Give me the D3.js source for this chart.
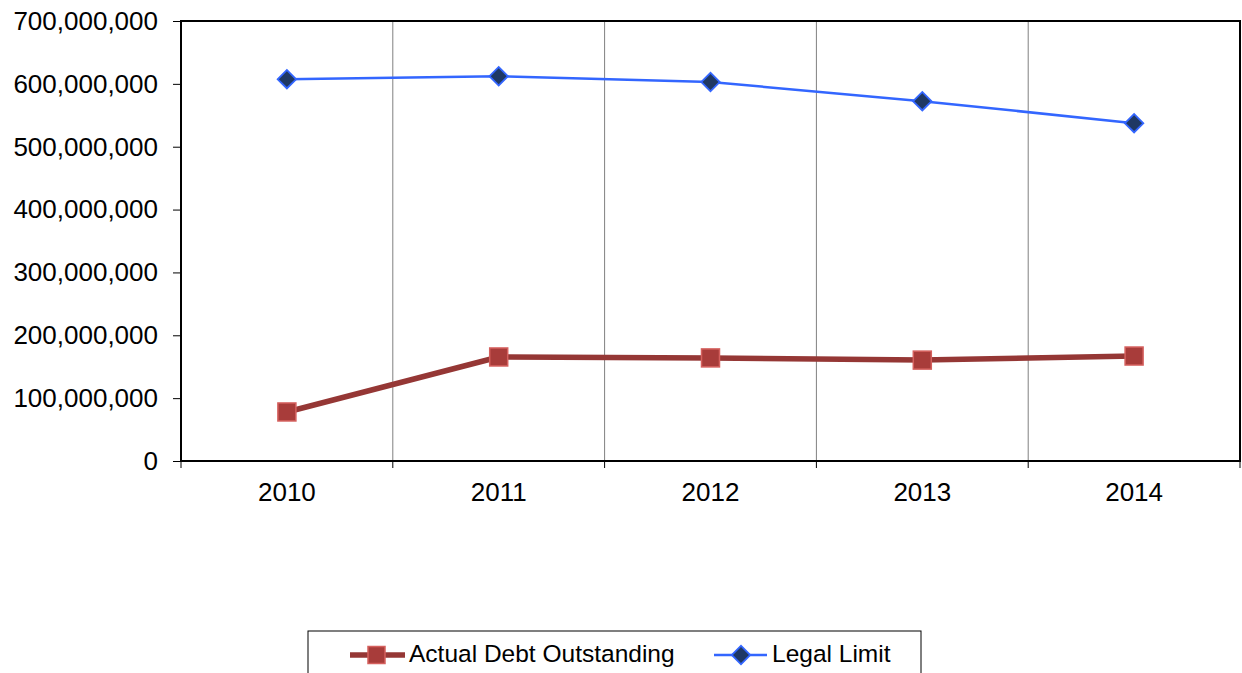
<!DOCTYPE html>
<html><head><meta charset="utf-8">
<script src="https://cdn.jsdelivr.net/npm/d3@7"></script>
<style>body{margin:0;background:#fff}svg{display:block}text{font-family:"Liberation Sans",Arial,sans-serif}</style>
</head><body>
<svg id="c" width="1242" height="673"></svg>
<script>
const categories = ["2010","2011","2012","2013","2014"];
const actualDebt = [78000000,165500000,164000000,160500000,167000000];
const legalLimit = [607500000,612000000,603000000,572500000,537500000];
const yTicks = [0,100000000,200000000,300000000,400000000,500000000,600000000,700000000];
const seriesNames = ["Actual Debt Outstanding","Legal Limit"];

const svg = d3.select("#c");
const L=181, R=1240, T=21, B=461;
const x = d3.scaleBand().domain(categories).range([L,R]);
const y = d3.scaleLinear().domain([0,700000000]).range([B,T]);
const fmt = d3.format(",");
const FONT = "Liberation Sans, Arial, sans-serif";

// gridlines at category boundaries
const bounds = categories.slice(1).map(c=>x(c));
svg.selectAll("line.grid").data(bounds).join("line")
  .attr("x1",d=>d).attr("x2",d=>d).attr("y1",T).attr("y2",B)
  .attr("stroke","#808080").attr("stroke-width",1);

// frame
svg.append("rect").attr("x",L).attr("y",T).attr("width",R-L).attr("height",B-T)
  .attr("fill","none").attr("stroke","#000").attr("stroke-width",2);

// y axis
const ya = svg.append("g").attr("transform",`translate(${L},0)`)
  .call(d3.axisLeft(y).tickValues(yTicks).tickFormat(fmt).tickSize(8).tickPadding(15));
ya.select(".domain").remove();
ya.selectAll("line").attr("stroke","#000").attr("x2",-8).attr("x1",0);
ya.selectAll("text").attr("font-size",26).attr("fill","#000").attr("font-family",FONT);

// x axis
const xa = svg.append("g").attr("transform",`translate(0,${B})`)
  .call(d3.axisBottom(x).tickSize(0).tickPadding(22));
xa.select(".domain").remove();
xa.selectAll("text").attr("font-size",26).attr("fill","#000").attr("font-family",FONT);
svg.selectAll("line.xt").data([L,...bounds,R]).join("line")
  .attr("x1",d=>d).attr("x2",d=>d).attr("y1",B).attr("y2",B+7)
  .attr("stroke","#000").attr("stroke-width",1);

const cx = c => x(c)+x.bandwidth()/2;
const line = d3.line().x((d,i)=>cx(categories[i])).y(d=>y(d));

// actual debt
svg.append("path").datum(actualDebt).attr("d",line).attr("fill","none")
  .attr("stroke","#953735").attr("stroke-width",5.5).attr("stroke-linejoin","round");
svg.selectAll("rect.m1").data(actualDebt).join("rect")
  .attr("x",(d,i)=>cx(categories[i])-9).attr("y",d=>y(d)-9).attr("width",18).attr("height",18)
  .attr("fill","#A83C3A").attr("stroke","#D5605E").attr("stroke-width",1.5);

// legal limit
svg.append("path").datum(legalLimit).attr("d",line).attr("fill","none")
  .attr("stroke","#3366FF").attr("stroke-width",2.5);
const diamond = d3.symbol().type(d3.symbolSquare).size(170);
svg.selectAll("path.m2").data(legalLimit).join("path")
  .attr("d",diamond)
  .attr("transform",(d,i)=>`translate(${cx(categories[i])},${y(d)}) rotate(45)`)
  .attr("fill","#1F3864").attr("stroke","#3366FF").attr("stroke-width",1.8);

// legend
const lg = svg.append("g");
lg.append("rect").attr("x",308).attr("y",631).attr("width",613).attr("height",60)
  .attr("fill","#fff").attr("stroke","#000").attr("stroke-width",1);
const ly = 655;
lg.append("line").attr("x1",350).attr("x2",405).attr("y1",ly).attr("y2",ly)
  .attr("stroke","#953735").attr("stroke-width",5.5);
lg.append("rect").attr("x",368).attr("y",ly-8.5).attr("width",17).attr("height",17)
  .attr("fill","#A83C3A").attr("stroke","#D5605E").attr("stroke-width",1.5);
lg.append("text").attr("x",409).attr("y",662).attr("font-size",24.5).text(seriesNames[0]);
lg.append("line").attr("x1",714).attr("x2",767).attr("y1",ly).attr("y2",ly)
  .attr("stroke","#3366FF").attr("stroke-width",2.5);
lg.append("path").attr("d",diamond).attr("transform",`translate(741,${ly}) rotate(45)`)
  .attr("fill","#1F3864").attr("stroke","#3366FF").attr("stroke-width",1.8);
lg.append("text").attr("x",772).attr("y",662).attr("font-size",24.5).text(seriesNames[1]);
</script>
</body></html>
